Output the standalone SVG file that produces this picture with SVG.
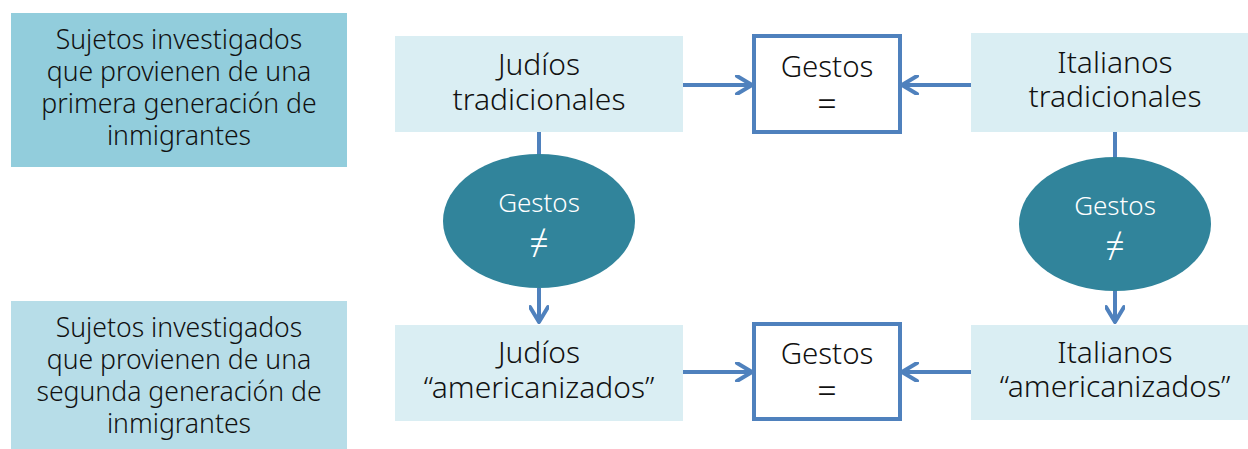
<svg xmlns="http://www.w3.org/2000/svg" width="1248" height="449" viewBox="0 0 1248 449">
<style>
text{font-family:"Noto Sans",Lato,sans-serif;font-weight:300;text-anchor:middle;fill:#111}
.lbl{font-size:26.6px}
.mid{font-size:30px}
.g{font-size:29.5px}
.w{fill:#fff;font-size:26px}
.sym{font-size:34px}
.lb{fill:#DAEEF3}
.gb{fill:#fff;stroke:#4F81BD;stroke-width:4}
.el{fill:#31849B}
.c{stroke:#4F81BD;stroke-width:4;fill:none}
</style>
<defs>
<marker id="ah" viewBox="0 0 20 20" refX="18" refY="10" markerWidth="20" markerHeight="20" markerUnits="userSpaceOnUse" orient="auto">
<path d="M3 1 L18 10 L3 19" fill="none" stroke="#4F81BD" stroke-width="4" stroke-linejoin="round" stroke-linecap="round"/>
</marker>
</defs>
<g id="connectors">
<line class="c" x1="683" y1="85" x2="752" y2="85" marker-end="url(#ah)"/>
<line class="c" x1="971" y1="85" x2="902" y2="85" marker-end="url(#ah)"/>
<line class="c" x1="683" y1="372" x2="752" y2="372" marker-end="url(#ah)"/>
<line class="c" x1="971" y1="372" x2="902" y2="372" marker-end="url(#ah)"/>
<line class="c" x1="539" y1="132" x2="539" y2="156"/>
<line class="c" x1="539" y1="288" x2="539" y2="322" marker-end="url(#ah)"/>
<line class="c" x1="1115" y1="132" x2="1115" y2="158"/>
<line class="c" x1="1115" y1="290" x2="1115" y2="322" marker-end="url(#ah)"/>
</g>
<g id="gen1">
<rect x="11" y="13" width="336" height="154" fill="#92CDDC"/>
<text class="lbl" x="179" y="49">Sujetos investigados<tspan x="179" dy="32">que provienen de una</tspan><tspan x="179" dy="32">primera generación de</tspan><tspan x="179" dy="32">inmigrantes</tspan></text>
</g>
<g id="gen2">
<rect x="11" y="301" width="336" height="148" fill="#B7DDE8"/>
<text class="lbl" x="179" y="337">Sujetos investigados<tspan x="179" dy="32">que provienen de una</tspan><tspan x="179" dy="32">segunda generación de</tspan><tspan x="179" dy="32">inmigrantes</tspan></text>
</g>
<g id="judios-trad">
<rect class="lb" x="395" y="36" width="288" height="96"/>
<text class="mid" x="539" y="75">Judíos<tspan x="539" dy="35">tradicionales</tspan></text>
</g>
<g id="gestos-eq-top">
<rect class="gb" x="754" y="36" width="146" height="96"/>
<text class="g" x="827" y="77">Gestos<tspan class="sym" x="827" dy="39">=</tspan></text>
</g>
<g id="italianos-trad">
<rect class="lb" x="971" y="33" width="290" height="99"/>
<text class="mid" x="1115" y="73">Italianos<tspan x="1115" dy="34">tradicionales</tspan></text>
</g>
<g id="gestos-neq-left">
<ellipse class="el" cx="539" cy="221" rx="96" ry="67"/>
<text class="w" x="539" y="212">Gestos<tspan class="sym" x="539" dy="43">≠</tspan></text>
</g>
<g id="gestos-neq-right">
<ellipse class="el" cx="1115" cy="224" rx="96" ry="67"/>
<text class="w" x="1115" y="215">Gestos<tspan class="sym" x="1115" dy="43">≠</tspan></text>
</g>
<g id="judios-amer">
<rect class="lb" x="395" y="325" width="288" height="96"/>
<text class="mid" x="539" y="363">Judíos<tspan x="539" dy="35">“americanizados”</tspan></text>
</g>
<g id="gestos-eq-bottom">
<rect class="gb" x="754" y="324" width="146" height="95"/>
<text class="g" x="827" y="364">Gestos<tspan class="sym" x="827" dy="39">=</tspan></text>
</g>
<g id="italianos-amer">
<rect class="lb" x="971" y="325" width="290" height="95"/>
<text class="mid" x="1115" y="363">Italianos<tspan x="1115" dy="34">“americanizados”</tspan></text>
</g>
</svg>
